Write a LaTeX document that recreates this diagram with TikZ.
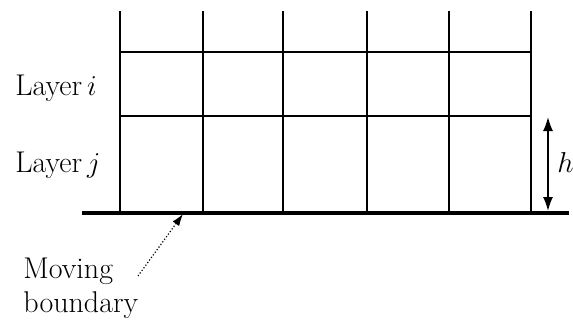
\documentclass[tikz,border=0pt]{standalone}
\usetikzlibrary{arrows.meta}
\begin{document}
\begin{tikzpicture}[x=0.5pt,y=-0.5pt,
  gridline/.style={line width=1pt},
  baseline/.style={line width=2pt},
  lbl/.style={font=\fontsize{15}{17}\selectfont, inner sep=0pt},
  harrow/.style={line width=0.8pt, {Latex[length=7pt,width=5pt]}-{Latex[length=7pt,width=5pt]}},
  ptr/.style={line width=0.6pt, densely dotted, -{Latex[length=6pt,width=4pt]}}]
\useasboundingbox (0,0) rectangle (573,323);
\foreach \x [count=\i] in {120,203,283,367,449,531} {
  \coordinate (t\i) at (\x,11);
  \coordinate (b\i) at (\x,213);
  \draw[gridline] (t\i) -- (b\i);
}
\coordinate (l1) at (120,52);  \coordinate (r1) at (531,52);
\coordinate (l2) at (120,116); \coordinate (r2) at (531,116);
\draw[gridline] (l1) -- (r1);
\draw[gridline] (l2) -- (r2);
\coordinate (bl) at (82,213); \coordinate (br) at (569,213);
\draw[baseline] (bl) -- (br);
\coordinate (ha) at (548,117); \coordinate (hb) at (548,211);
\draw[harrow] (ha) -- (hb);
\node[lbl, anchor=base west] (hlab) at (557,172) {$h$};
\node[lbl, anchor=base west] (li) at (15,95) {Layer\,$i$};
\node[lbl, anchor=base west] (lj) at (15,172) {Layer\,$j$};
\node[lbl, anchor=north west, align=left] (mb) at (23,258) {Moving\\boundary};
\coordinate (ms) at (138,276);
\coordinate (me) at (183,214);
\draw[ptr] (ms) -- (me);
\end{tikzpicture}
\end{document}
